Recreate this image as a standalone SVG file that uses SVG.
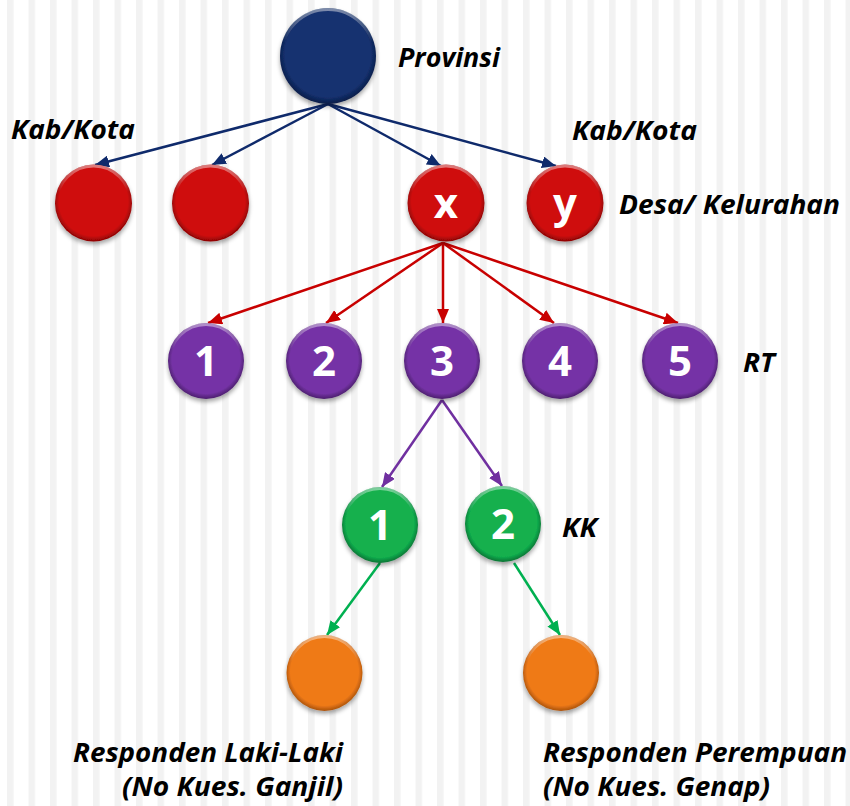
<svg xmlns="http://www.w3.org/2000/svg" width="850" height="806" viewBox="0 0 850 806">
<defs>
  <pattern id="stripes" x="7" y="0" width="21.5" height="806" patternUnits="userSpaceOnUse">
    <rect x="0" y="0" width="6.5" height="806" fill="#f2f2f2"/>
  </pattern>
  <filter id="shadow" x="-30%" y="-30%" width="160%" height="170%">
    <feDropShadow dx="0" dy="3" stdDeviation="2.2" flood-color="#000" flood-opacity="0.35"/>
  </filter>
  <radialGradient id="gNavy" cx="50%" cy="48%" r="52%">
    <stop offset="0" stop-color="#14316f"/><stop offset="0.86" stop-color="#14316f"/><stop offset="1" stop-color="#0a1d48"/>
  </radialGradient>
  <radialGradient id="gRed" cx="50%" cy="48%" r="52%">
    <stop offset="0" stop-color="#cf0a0a"/><stop offset="0.86" stop-color="#cf0a0a"/><stop offset="1" stop-color="#8a0505"/>
  </radialGradient>
  <radialGradient id="gPurple" cx="50%" cy="48%" r="52%">
    <stop offset="0" stop-color="#7533a6"/><stop offset="0.86" stop-color="#7533a6"/><stop offset="1" stop-color="#4b1f6c"/>
  </radialGradient>
  <radialGradient id="gGreen" cx="50%" cy="48%" r="52%">
    <stop offset="0" stop-color="#12b04e"/><stop offset="0.86" stop-color="#12b04e"/><stop offset="1" stop-color="#0a7234"/>
  </radialGradient>
  <radialGradient id="gOrange" cx="50%" cy="48%" r="52%">
    <stop offset="0" stop-color="#ef7a17"/><stop offset="0.86" stop-color="#ef7a17"/><stop offset="1" stop-color="#a9520c"/>
  </radialGradient>
  <linearGradient id="rim" x1="0" y1="0" x2="0" y2="1">
    <stop offset="0" stop-color="#fff" stop-opacity="0.45"/>
    <stop offset="0.35" stop-color="#fff" stop-opacity="0"/>
  </linearGradient>
  <marker id="aNavy" viewBox="0 0 14 12" refX="14" refY="6" markerWidth="14" markerHeight="12" markerUnits="userSpaceOnUse" orient="auto">
    <path d="M0,0 L14,6 L0,12 Z" fill="#0f2a6b"/>
  </marker>
  <marker id="aRed" viewBox="0 0 14 12" refX="14" refY="6" markerWidth="14" markerHeight="12" markerUnits="userSpaceOnUse" orient="auto">
    <path d="M0,0 L14,6 L0,12 Z" fill="#c80000"/>
  </marker>
  <marker id="aPurple" viewBox="0 0 14 12" refX="14" refY="6" markerWidth="14" markerHeight="12" markerUnits="userSpaceOnUse" orient="auto">
    <path d="M0,0 L14,6 L0,12 Z" fill="#7030a0"/>
  </marker>
  <marker id="aGreen" viewBox="0 0 14 12" refX="14" refY="6" markerWidth="14" markerHeight="12" markerUnits="userSpaceOnUse" orient="auto">
    <path d="M0,0 L14,6 L0,12 Z" fill="#00b050"/>
  </marker>
</defs>
<style>
  .lbl { font-family: "Open Sans", "Liberation Sans", sans-serif; font-weight: bold; font-style: italic; font-size: 27.5px; fill: #000; }
  .num { font-family: "Open Sans", "Liberation Sans", sans-serif; font-weight: bold; font-size: 42px; fill: #fff; text-anchor: middle; }
  .node { filter: url(#shadow); }
  .rim { fill: none; stroke: url(#rim); stroke-width: 3; }
  .cNavy { fill: none; stroke: #0f2a6b; stroke-width: 2.5; marker-end: url(#aNavy); }
  .cRed { fill: none; stroke: #c80000; stroke-width: 2.5; marker-end: url(#aRed); }
  .cPurple { fill: none; stroke: #7030a0; stroke-width: 2.5; marker-end: url(#aPurple); }
  .cGreen { fill: none; stroke: #00b050; stroke-width: 2.5; marker-end: url(#aGreen); }
</style>
<rect width="850" height="806" fill="#ffffff"/>
<rect width="850" height="806" fill="url(#stripes)"/>

<g id="connectors">
  <line class="cNavy" x1="328" y1="104" x2="95" y2="165"/>
  <line class="cNavy" x1="328" y1="104" x2="212" y2="165"/>
  <line class="cNavy" x1="328" y1="104" x2="441" y2="166"/>
  <line class="cNavy" x1="328" y1="104" x2="556" y2="166"/>
  <line class="cRed" x1="443" y1="243" x2="208" y2="323"/>
  <line class="cRed" x1="443" y1="243" x2="326" y2="323"/>
  <line class="cRed" x1="443" y1="243" x2="443" y2="323"/>
  <line class="cRed" x1="443" y1="243" x2="554" y2="323"/>
  <line class="cRed" x1="443" y1="243" x2="678" y2="323"/>
  <line class="cPurple" x1="442" y1="400" x2="382" y2="487"/>
  <line class="cPurple" x1="442" y1="400" x2="502" y2="486"/>
  <line class="cGreen" x1="380" y1="563" x2="327" y2="635"/>
  <line class="cGreen" x1="514" y1="563" x2="560" y2="635"/>
</g>

<g id="provinsi"><circle class="node" cx="328" cy="56" r="48" fill="url(#gNavy)"/><circle class="rim" cx="328" cy="56" r="46.5"/></g>
<g id="kab1"><circle class="node" cx="93.5" cy="203" r="38.5" fill="url(#gRed)"/><circle class="rim" cx="93.5" cy="203" r="37"/></g>
<g id="kab2"><circle class="node" cx="210.5" cy="203" r="38.5" fill="url(#gRed)"/><circle class="rim" cx="210.5" cy="203" r="37"/></g>
<g id="desa-x"><circle class="node" cx="446" cy="203" r="38.5" fill="url(#gRed)"/><circle class="rim" cx="446" cy="203" r="37"/><text class="num" x="446" y="218">x</text></g>
<g id="desa-y"><circle class="node" cx="565" cy="203" r="38.5" fill="url(#gRed)"/><circle class="rim" cx="565" cy="203" r="37"/><text class="num" x="565" y="218">y</text></g>

<g id="rt1"><circle class="node" cx="206" cy="361" r="38" fill="url(#gPurple)"/><circle class="rim" cx="206" cy="361" r="36.5"/><text class="num" x="206" y="376">1</text></g>
<g id="rt2"><circle class="node" cx="324" cy="361" r="38" fill="url(#gPurple)"/><circle class="rim" cx="324" cy="361" r="36.5"/><text class="num" x="324" y="376">2</text></g>
<g id="rt3"><circle class="node" cx="442" cy="361" r="38" fill="url(#gPurple)"/><circle class="rim" cx="442" cy="361" r="36.5"/><text class="num" x="442" y="376">3</text></g>
<g id="rt4"><circle class="node" cx="560" cy="361" r="38" fill="url(#gPurple)"/><circle class="rim" cx="560" cy="361" r="36.5"/><text class="num" x="560" y="376">4</text></g>
<g id="rt5"><circle class="node" cx="680" cy="361" r="38" fill="url(#gPurple)"/><circle class="rim" cx="680" cy="361" r="36.5"/><text class="num" x="680" y="376">5</text></g>

<g id="kk1"><circle class="node" cx="380" cy="525" r="38" fill="url(#gGreen)"/><circle class="rim" cx="380" cy="525" r="36.5"/><text class="num" x="380" y="540">1</text></g>
<g id="kk2"><circle class="node" cx="503" cy="524" r="38" fill="url(#gGreen)"/><circle class="rim" cx="503" cy="524" r="36.5"/><text class="num" x="503" y="539">2</text></g>

<g id="resp-l"><circle class="node" cx="324.5" cy="673" r="38" fill="url(#gOrange)"/><circle class="rim" cx="324.5" cy="673" r="36.5"/></g>
<g id="resp-p"><circle class="node" cx="561" cy="673" r="38" fill="url(#gOrange)"/><circle class="rim" cx="561" cy="673" r="36.5"/></g>

<g id="labels">
  <text class="lbl" x="398" y="67" textLength="102" lengthAdjust="spacingAndGlyphs">Provinsi</text>
  <text class="lbl" x="11" y="139" textLength="124" lengthAdjust="spacingAndGlyphs">Kab/Kota</text>
  <text class="lbl" x="572" y="140" textLength="125" lengthAdjust="spacingAndGlyphs">Kab/Kota</text>
  <text class="lbl" x="619" y="214" textLength="221" lengthAdjust="spacingAndGlyphs">Desa/ Kelurahan</text>
  <text class="lbl" x="743" y="372" textLength="32" lengthAdjust="spacingAndGlyphs">RT</text>
  <text class="lbl" x="562" y="537" textLength="35" lengthAdjust="spacingAndGlyphs">KK</text>
  <text class="lbl" x="73" y="762" textLength="270" lengthAdjust="spacingAndGlyphs">Responden Laki-Laki</text>
  <text class="lbl" x="122" y="796" textLength="221" lengthAdjust="spacingAndGlyphs">(No Kues. Ganjil)</text>
  <text class="lbl" x="543" y="762" textLength="304" lengthAdjust="spacingAndGlyphs">Responden Perempuan</text>
  <text class="lbl" x="543" y="796" textLength="227" lengthAdjust="spacingAndGlyphs">(No Kues. Genap)</text>
</g>
</svg>
